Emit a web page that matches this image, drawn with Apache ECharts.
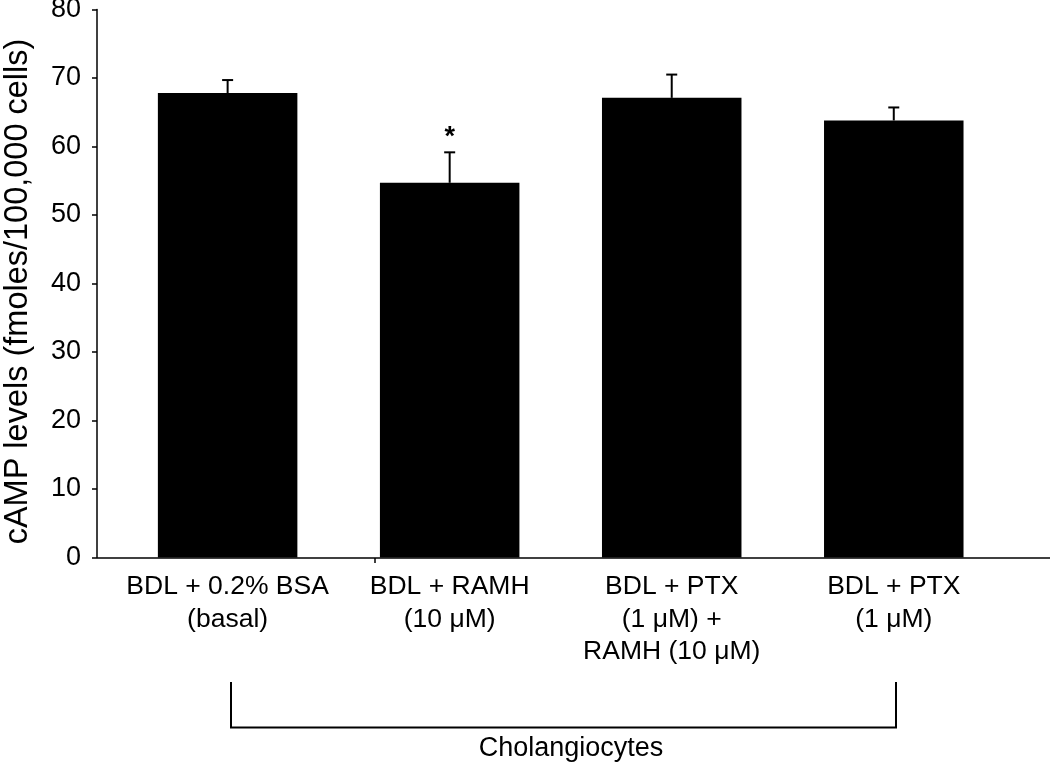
<!DOCTYPE html>
<html>
<head>
<meta charset="utf-8">
<title>cAMP levels</title>
<script src="https://cdn.jsdelivr.net/npm/echarts@6/dist/echarts.min.js"></script>
<style>
  html, body { margin: 0; padding: 0; background: #fff; }
  #chart { width: 1050px; height: 766px; }
</style>
</head>
<body>
<div id="chart"></div>
<script>
// data
var categories = [
  'BDL + 0.2% BSA\n(basal)',
  'BDL + RAMH\n(10 \u03bcM)',
  'BDL + PTX\n(1 \u03bcM) +\nRAMH (10 \u03bcM)',
  'BDL + PTX\n(1 \u03bcM)'
];
var meanValues = [67.8, 54.7, 67.1, 63.8];
var semValues = [1.9, 4.45, 3.4, 1.9];
var sigMarks = ['', '*', '', ''];
var yTicks = [0, 10, 20, 30, 40, 50, 60, 70, 80];

var font = "'Liberation Sans', Arial, Helvetica, sans-serif";

var errData = [];
for (var i = 0; i < meanValues.length; i++) {
  errData.push([i, meanValues[i], semValues[i]]);
}

var chart = echarts.init(document.getElementById('chart'));
chart.setOption({
  animation: false,
  backgroundColor: '#fff',
  grid: { left: 116.6, right: 45.2, top: 9.5, bottom: 208.5, outerBoundsMode: 'none', containLabel: false },
  xAxis: {
    type: 'category',
    data: categories,
    axisLine: { show: false },
    axisTick: { show: false },
    axisLabel: {
      interval: 0,
      margin: 13,
      color: '#000',
      fontFamily: font,
      fontSize: 26.5,
      lineHeight: 32.5
    }
  },
  yAxis: {
    type: 'value',
    min: yTicks[0],
    max: yTicks[yTicks.length - 1],
    interval: 10,
    offset: 19.6,
    name: 'cAMP levels (fmoles/100,000 cells)',
    nameLocation: 'middle',
    nameRotate: 90,
    nameGap: 62,
    nameTextStyle: { color: '#000', fontFamily: font, fontSize: 32.5, padding: [0, 16, 0, 0] },
    splitLine: { show: false },
    axisLine: { show: true, lineStyle: { color: '#000', width: 1.5 } },
    axisTick: { show: true, inside: false, length: 5, lineStyle: { color: '#000', width: 1.5 } },
    axisLabel: { margin: 16, color: '#000', fontFamily: font, fontSize: 27 }
  },
  series: [
    {
      type: 'bar',
      data: meanValues,
      barWidth: 139.5,
      itemStyle: { color: '#000' }
    },
    {
      type: 'custom',
      data: errData,
      encode: { x: 0, y: 1 },
      z: 3,
      renderItem: function (params, api) {
        var idx = api.value(0);
        var base = api.coord([idx, api.value(1)]);
        var top = api.coord([idx, api.value(1) + api.value(2)]);
        var cap = 5.5;
        var style = { stroke: '#000', lineWidth: 2 };
        var children = [
          { type: 'line', shape: { x1: base[0], y1: base[1], x2: top[0], y2: top[1] }, style: style },
          { type: 'line', shape: { x1: top[0] - cap, y1: top[1], x2: top[0] + cap, y2: top[1] }, style: style }
        ];
        if (sigMarks[params.dataIndex]) {
          children.push({
            type: 'text',
            style: {
              text: sigMarks[params.dataIndex],
              x: top[0],
              y: top[1] - 15,
              align: 'center',
              verticalAlign: 'middle',
              fill: '#000',
              font: 'bold 27px ' + font
            }
          });
        }
        return { type: 'group', children: children };
      }
    }
  ],
  graphic: [
    // x axis line spans the full plotting width
    { type: 'line', shape: { x1: 97, y1: 558, x2: 1050, y2: 558 }, style: { stroke: '#000', lineWidth: 1.5 } },
    { type: 'line', shape: { x1: 375, y1: 558, x2: 375, y2: 563 }, style: { stroke: '#000', lineWidth: 1.5 } },
    // bracket
    { type: 'polyline', shape: { points: [[231, 682], [231, 727.5], [896, 727.5], [896, 682]] }, style: { stroke: '#000', lineWidth: 2, fill: null } },
    { type: 'text', style: { text: 'Cholangiocytes', x: 571, y: 749, align: 'center', verticalAlign: 'middle', fill: '#000', font: '27px ' + font } }
  ]
});
</script>
</body>
</html>
